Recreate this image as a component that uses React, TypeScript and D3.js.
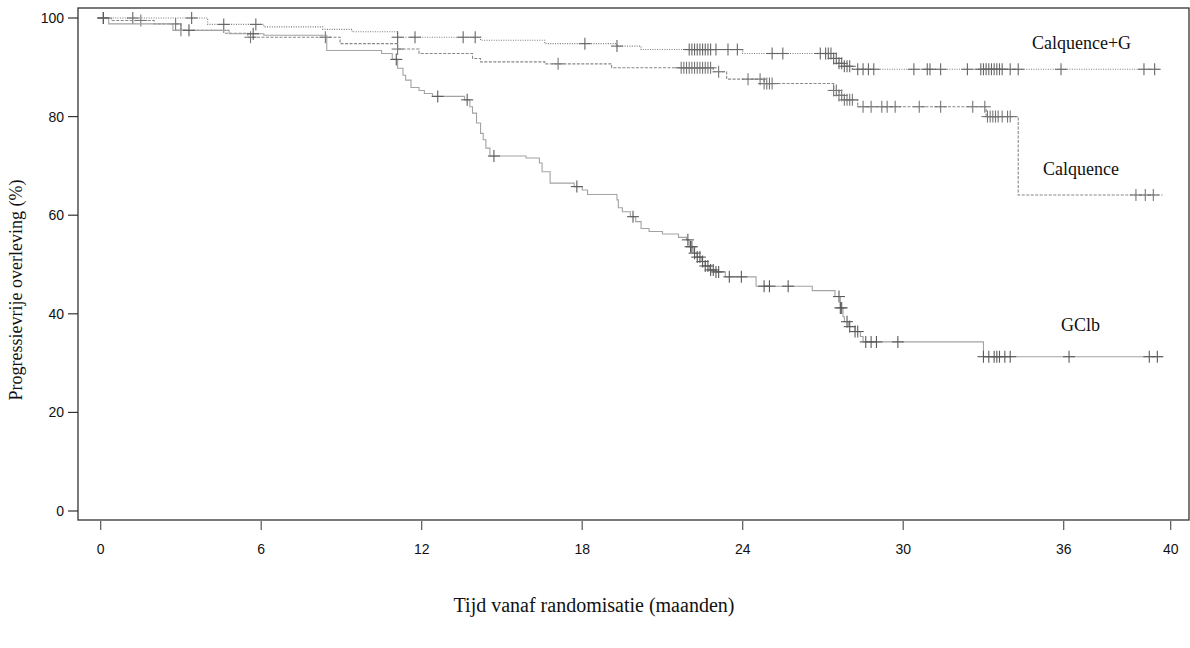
import React, { useEffect, useRef } from 'react';
import * as d3 from 'd3';

// Calquence+G (dotted)
const cgTimes = [0, 4.0, 6.1, 8.3, 9.4, 11.1, 14.2, 16.6, 19.3, 20.2, 24.0, 27.4, 27.6, 27.8, 28.1];
const cgSurv = [100, 98.7, 98.2, 97.7, 97.2, 96.1, 95.5, 94.8, 94.3, 93.6, 92.8, 91.8, 90.8, 90.2, 89.6];
const cgCensor = [0.1, 1.2, 3.4, 4.6, 5.8, 11.1, 11.75, 13.55, 14.0, 18.1, 19.3, 22.0, 22.1, 22.2, 22.3, 22.4,
  22.5, 22.6, 22.7, 22.8, 23.0, 23.45, 23.8, 25.1, 25.5, 26.9, 27.1, 27.2, 27.3, 27.4, 27.5, 27.6, 27.7, 27.8,
  27.9, 28.0, 28.3, 28.5, 28.7, 28.9, 30.4, 30.9, 31.0, 31.4, 32.4, 32.9, 33.0, 33.1, 33.2, 33.3, 33.4, 33.5,
  33.6, 33.7, 34.0, 34.3, 35.9, 39.0, 39.4];
const cgEnd = 39.6;

// Calquence (dashed)
const cTimes = [0, 0.4, 2.0, 3.0, 4.6, 5.5, 8.95, 11.1, 11.9, 13.9, 14.2, 16.6, 19.1, 22.9, 23.4, 24.8, 27.4,
  27.6, 27.8, 28.3, 33.1, 34.3];
const cSurv = [100, 99.5, 98.8, 97.5, 96.9, 96.1, 94.8, 93.7, 92.8, 91.8, 91.1, 90.7, 89.9, 89.1, 87.6, 86.7,
  85.3, 84.3, 83.4, 82.0, 80.0, 64.1];
const cCensor = [0.1, 1.5, 2.8, 3.0, 5.6, 8.4, 11.1, 17.1, 21.7, 21.8, 21.9, 22.0, 22.1, 22.2, 22.3, 22.4, 22.5,
  22.6, 22.7, 22.8, 23.1, 24.2, 24.65, 24.8, 24.9, 25.0, 25.1, 27.4, 27.5, 27.6, 27.7, 27.8, 27.9, 28.0, 28.1,
  28.5, 28.8, 29.2, 29.4, 29.7, 30.6, 31.4, 32.6, 33.05, 33.15, 33.25, 33.35, 33.45, 33.55, 33.7, 33.9, 34.0,
  38.7, 39.05, 39.35];
const cEnd = 39.7;

// GClb (solid)
const gTimes = [0, 0.3, 2.7, 4.8, 6.1, 8.45, 10.5, 10.9, 11.1, 11.3, 11.4, 11.6, 11.9, 12.1, 12.4, 13.6, 13.8,
  13.9, 14.05, 14.2, 14.3, 14.4, 14.55, 15.9, 16.4, 16.5, 16.8, 17.7, 18.0, 18.2, 19.3, 19.35, 19.5, 19.8, 20.0,
  20.2, 20.5, 21.0, 21.6, 21.9, 22.0, 22.15, 22.3, 22.45, 22.6, 22.75, 23.0, 23.35, 24.5, 26.6, 27.45, 27.65,
  27.75, 27.8, 27.95, 28.2, 28.4, 28.5, 33.0];
const gSurv = [100, 98.8, 97.5, 96.8, 96.5, 93.4, 92.8, 91.6, 89.8, 88.4, 87.4, 85.9, 85.3, 84.7, 84.1, 83.4,
  82.0, 80.7, 78.7, 76.6, 75.3, 73.6, 72.0, 71.6, 70.6, 68.8, 66.5, 65.8, 65.1, 64.2, 63.1, 61.5, 60.7, 59.7,
  58.7, 57.3, 56.7, 56.2, 55.5, 55.0, 53.6, 52.3, 51.5, 50.6, 49.7, 48.9, 48.5, 47.5, 45.6, 44.7, 43.5, 41.2,
  39.4, 38.4, 37.4, 36.4, 35.4, 34.3, 31.3];
const gCensor = [0.1, 3.3, 5.7, 11.05, 12.6, 13.7, 14.7, 17.8, 19.9, 21.95, 22.05, 22.1, 22.2, 22.3, 22.4, 22.5,
  22.6, 22.7, 22.8, 22.9, 23.0, 23.1, 23.5, 23.95, 24.8, 25.0, 25.7, 27.6, 27.65, 27.7, 27.9, 28.0, 28.2, 28.3,
  28.6, 28.8, 29.0, 29.8, 33.0, 33.2, 33.4, 33.5, 33.6, 33.8, 34.0, 36.2, 39.2, 39.5];
const gEnd = 39.7;

const xTicks = [0, 6, 12, 18, 24, 30, 36, 40];
const yTicks = [0, 20, 40, 60, 80, 100];

const seriesNames = ['Calquence+G', 'Calquence', 'GClb'];

export default function App() {
  const ref = useRef<SVGSVGElement>(null);

  useEffect(() => {
    const svg = d3.select(ref.current);
    svg.selectAll('*').remove();

    const x = d3.scaleLinear().domain([0, 40]).range([100.7, 1170.7]);
    const y = d3.scaleLinear().domain([0, 100]).range([511, 18]);
    const sans = 'Liberation Sans, Arial, sans-serif';
    const serif = 'Liberation Serif, Times New Roman, serif';

    svg.append('rect').attr('width', 1190).attr('height', 648).attr('fill', '#fff');

    const series = [
      { times: cgTimes, surv: cgSurv, censor: cgCensor, end: cgEnd, color: '#7a7a7a', dash: '1,1.4', mark: '#666' },
      { times: cTimes, surv: cSurv, censor: cCensor, end: cEnd, color: '#888', dash: '3,1.5', mark: '#777' },
      { times: gTimes, surv: gSurv, censor: gCensor, end: gEnd, color: '#a3a3a3', dash: null, mark: '#5a5a5a' },
    ];

    const line = d3.line<[number, number]>()
      .x(d => x(d[0]))
      .y(d => y(d[1]))
      .curve(d3.curveStepAfter);

    series.forEach(s => {
      const pts: [number, number][] = s.times.map((t, i) => [t, s.surv[i]]);
      pts.push([s.end, s.surv[s.surv.length - 1]]);
      svg.append('path')
        .attr('d', line(pts))
        .attr('fill', 'none')
        .attr('stroke', s.color)
        .attr('stroke-width', 1.1)
        .attr('stroke-dasharray', s.dash);

      const g = svg.append('g').attr('stroke', s.mark).attr('stroke-width', 1.1);
      s.censor.forEach(t => {
        const idx = Math.max(0, d3.bisectRight(s.times, t) - 1);
        const cx = x(t);
        const cy = y(s.surv[idx]);
        g.append('line').attr('x1', cx - 6).attr('x2', cx + 6).attr('y1', cy).attr('y2', cy);
        g.append('line').attr('x1', cx).attr('x2', cx).attr('y1', cy - 6).attr('y2', cy + 6);
      });
    });

    // frame
    svg.append('rect')
      .attr('x', 78).attr('y', 8).attr('width', 1111).attr('height', 512)
      .attr('fill', 'none').attr('stroke', '#333').attr('stroke-width', 1.3);

    // y axis ticks
    const yg = svg.append('g');
    yTicks.forEach(v => {
      yg.append('line').attr('x1', 68).attr('x2', 78).attr('y1', y(v)).attr('y2', y(v))
        .attr('stroke', '#333').attr('stroke-width', 1.2);
      yg.append('text').attr('x', 64).attr('y', y(v) + 5)
        .attr('text-anchor', 'end').attr('font-family', sans).attr('font-size', 14)
        .attr('fill', '#111').text(v);
    });

    // x axis ticks
    const xg = svg.append('g');
    xTicks.forEach(v => {
      xg.append('line').attr('x1', x(v)).attr('x2', x(v)).attr('y1', 521).attr('y2', 530)
        .attr('stroke', '#555').attr('stroke-width', 1.2);
      xg.append('text').attr('x', x(v)).attr('y', 554)
        .attr('text-anchor', 'middle').attr('font-family', sans).attr('font-size', 14)
        .attr('fill', '#111').text(v);
    });

    svg.append('text')
      .attr('transform', 'translate(22,290) rotate(-90)')
      .attr('text-anchor', 'middle').attr('font-family', serif).attr('font-size', 18)
      .attr('fill', '#111').text('Progressievrije overleving (%)');

    svg.append('text')
      .attr('x', 594).attr('y', 612)
      .attr('text-anchor', 'middle').attr('font-family', serif).attr('font-size', 20)
      .attr('fill', '#111').text('Tijd vanaf randomisatie (maanden)');

    const labelPos = [[1032, 49], [1043, 175], [1061, 331]];
    seriesNames.forEach((n, i) => {
      svg.append('text')
        .attr('x', labelPos[i][0]).attr('y', labelPos[i][1])
        .attr('font-family', serif).attr('font-size', 18)
        .attr('fill', '#111').text(n);
    });
  }, []);

  return (
    <svg ref={ref} width={1190} height={648}
      style={{ position: 'absolute', left: 0, top: 0, display: 'block' }} />
  );
}
